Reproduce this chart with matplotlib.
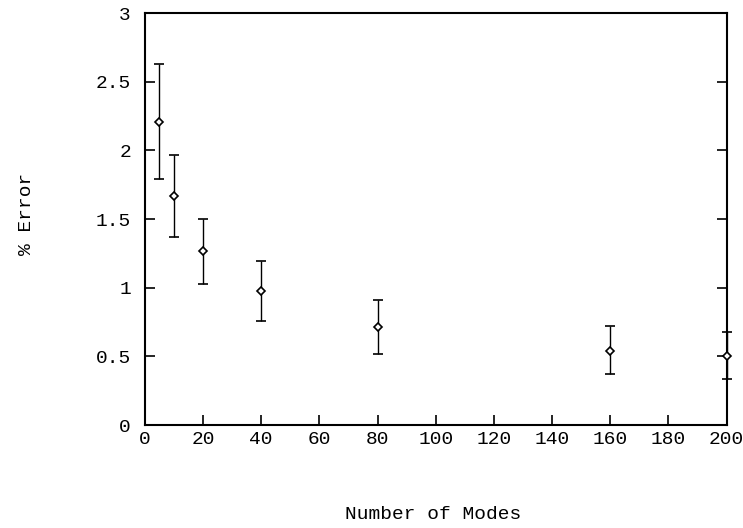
import matplotlib
matplotlib.use("Agg")
import matplotlib.pyplot as plt

modes = [5, 10, 20, 40, 80, 160, 200]
error = [2.21, 1.67, 1.265, 0.975, 0.715, 0.54, 0.50]
err_hi = [2.63, 1.97, 1.50, 1.195, 0.91, 0.72, 0.68]
err_lo = [1.79, 1.37, 1.03, 0.76, 0.52, 0.37, 0.335]

xticks = [0, 20, 40, 60, 80, 100, 120, 140, 160, 180, 200]
yticks = [0, 0.5, 1, 1.5, 2, 2.5, 3]
yticklabels = ["0", "0.5", "1", "1.5", "2", "2.5", "3"]

plt.rcParams['font.family'] = ['Liberation Mono', 'DejaVu Sans Mono']

fig = plt.figure(figsize=(7.43, 5.28), dpi=100)
ax = fig.add_axes([0.195, 0.195, 0.783, 0.780])

lower = [e - l for e, l in zip(error, err_lo)]
upper = [h - e for e, h in zip(error, err_hi)]
ax.errorbar(modes, error, yerr=[lower, upper], fmt='D', markersize=4.5,
            markerfacecolor='white', markeredgecolor='black', markeredgewidth=1.2,
            ecolor='black', elinewidth=1.0, capsize=3.5, capthick=1.0, color='black',
            clip_on=False, zorder=3)

ax.set_xlim(0, 200)
ax.set_ylim(0, 3)
ax.set_xticks(xticks)
ax.set_yticks(yticks)
ax.set_yticklabels(yticklabels)
ax.tick_params(direction='in', length=7, width=1.2, labelsize=14, top=False, right=True)
ax.tick_params(axis='x', pad=4)
ax.tick_params(axis='y', pad=10)
for s in ax.spines.values():
    s.set_linewidth(1.5)

fig.text(0.036, 0.595, "% Error", rotation=90, ha='center', va='center', fontsize=14)
fig.text(0.583, 0.025, "Number of Modes", ha='center', va='center', fontsize=14)

fig.savefig("out.png", dpi=100)
